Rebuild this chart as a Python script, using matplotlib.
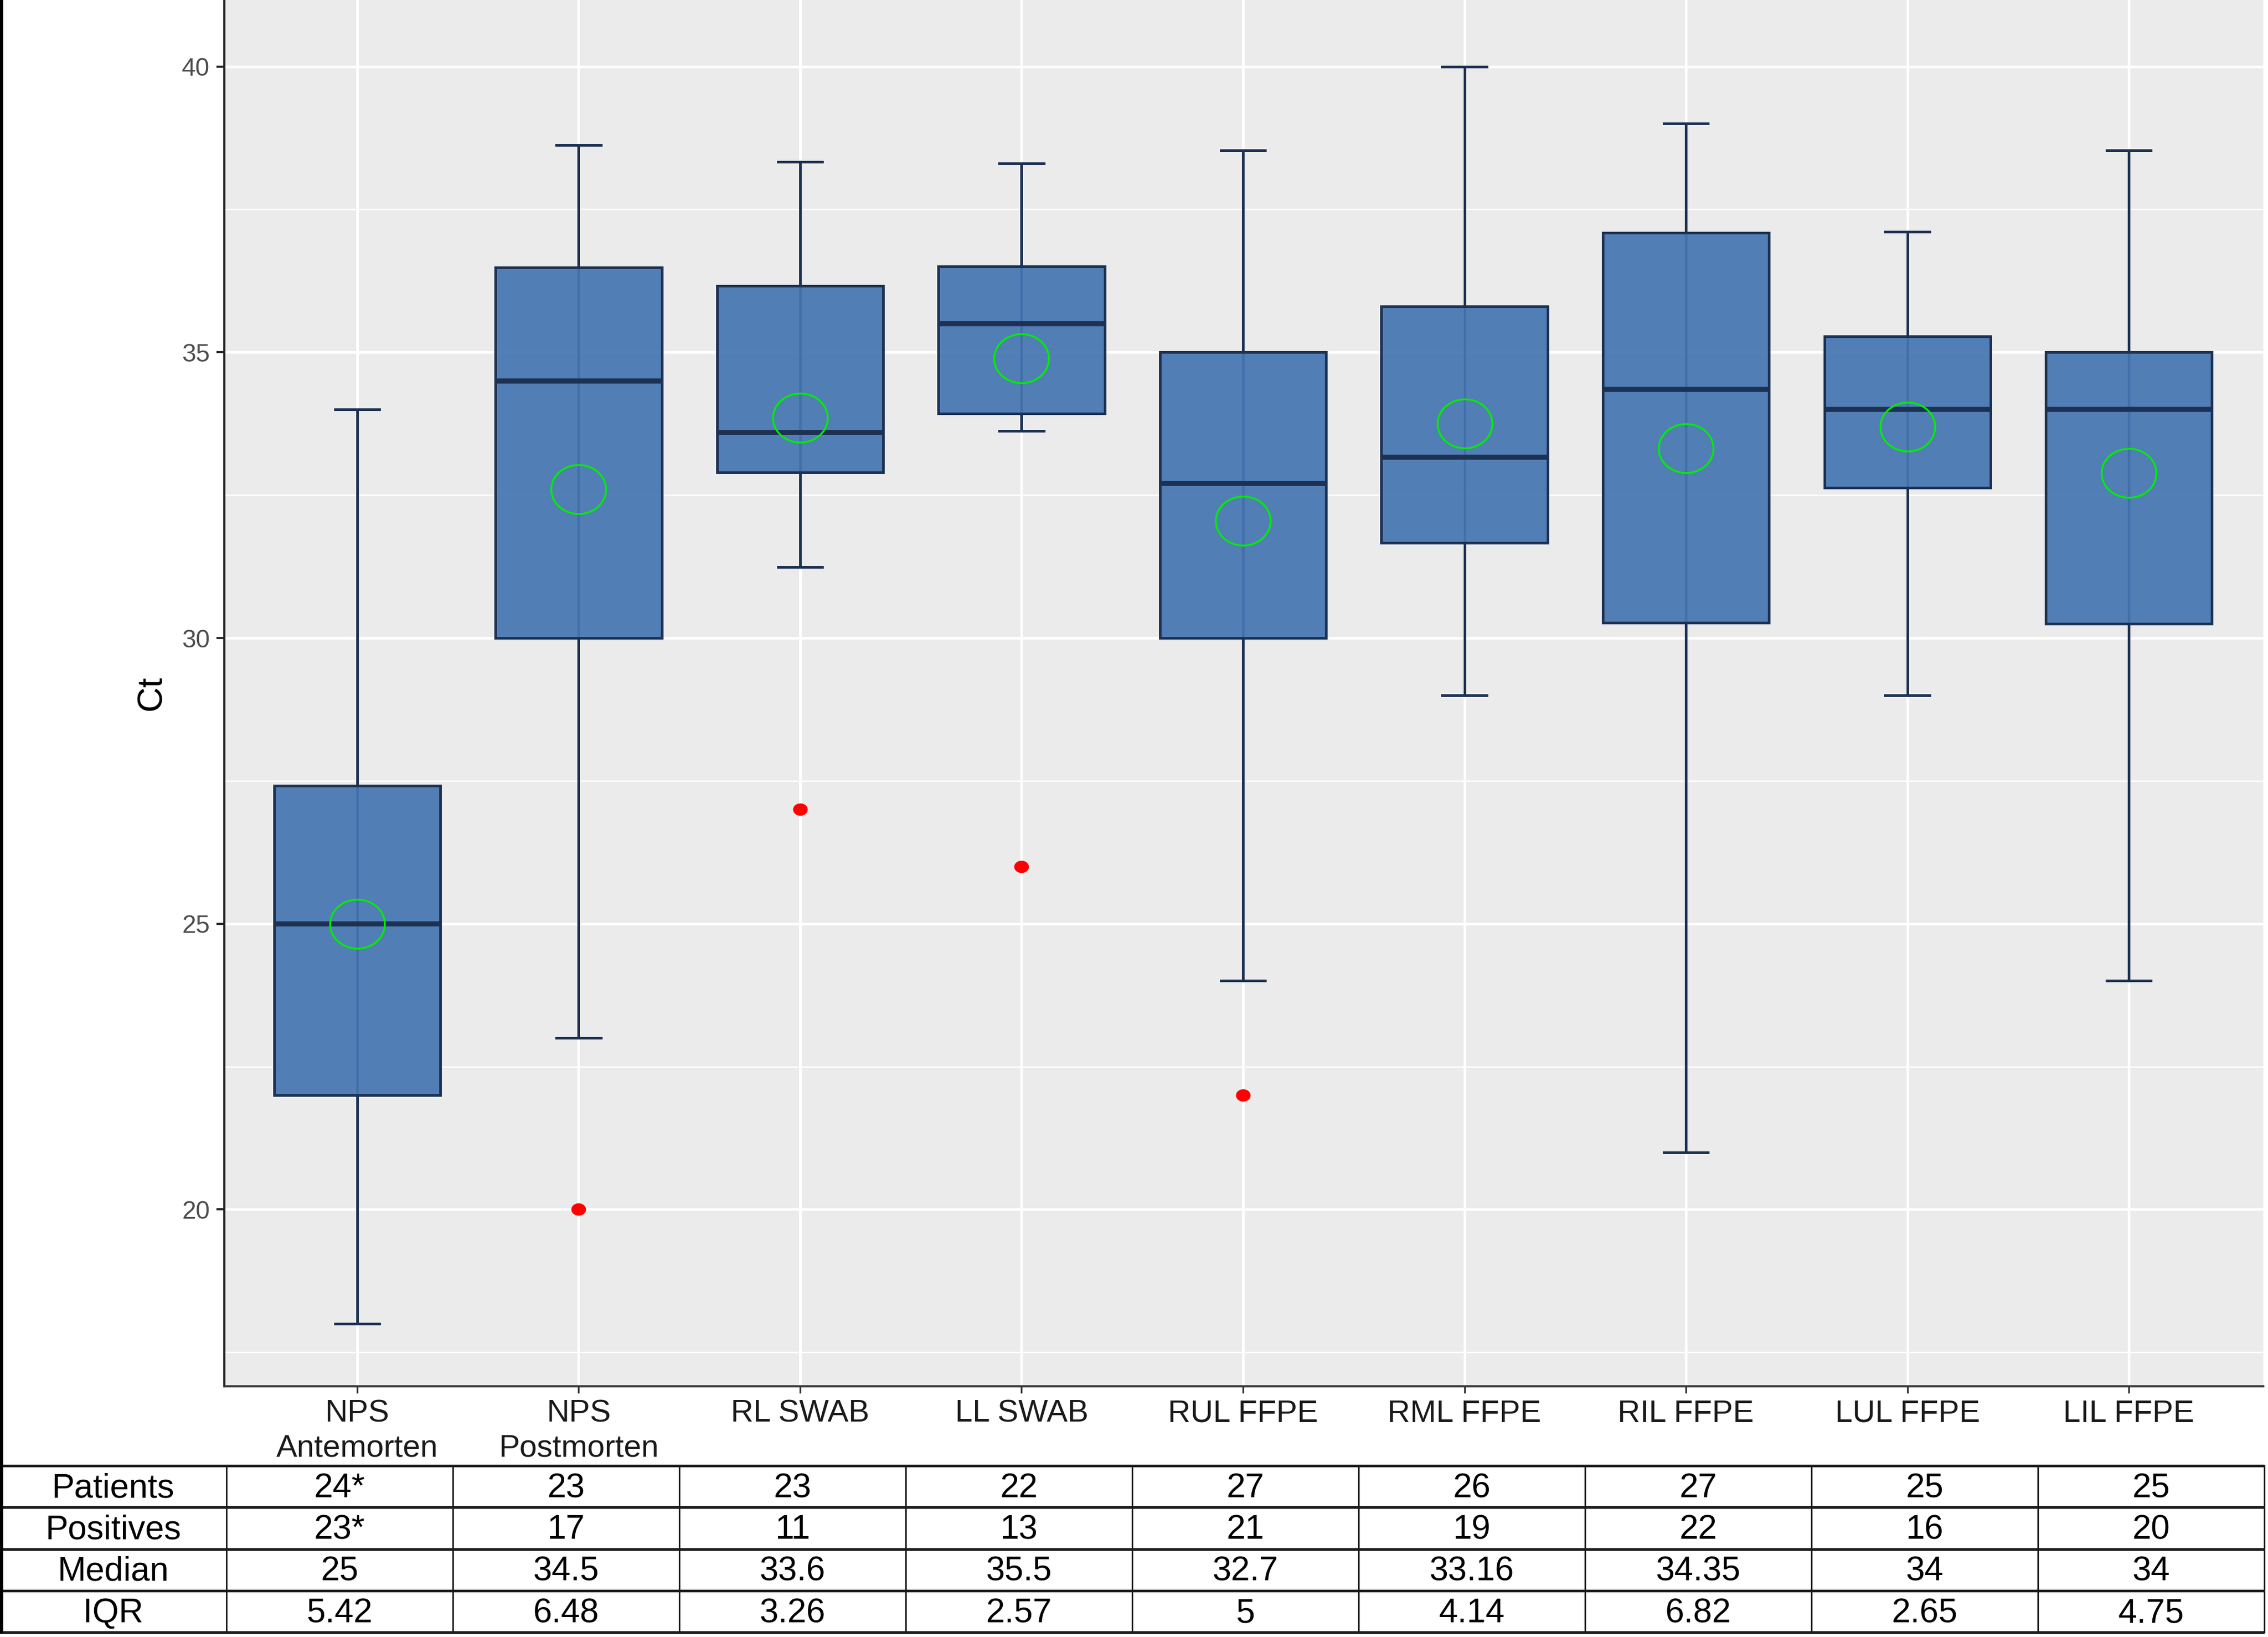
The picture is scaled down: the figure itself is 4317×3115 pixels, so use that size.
import numpy as np
import matplotlib
import matplotlib.pyplot as plt
from matplotlib.path import Path
from matplotlib.transforms import Affine2D
from matplotlib.ticker import MultipleLocator
from matplotlib.colors import to_rgba

plt.rcParams['font.family'] = ['Liberation Sans', 'DejaVu Sans']

# values
categories = ['NPS\nAntemorten', 'NPS\nPostmorten', 'RL SWAB', 'LL SWAB',
              'RUL FFPE', 'RML FFPE', 'RIL FFPE', 'LUL FFPE', 'LIL FFPE']
whisker_low = [18.0, 23.0, 31.24, 33.62, 24.0, 29.0, 21.0, 29.0, 24.0]
q1 = [22.0, 30.0, 32.9, 33.93, 30.0, 31.66, 30.27, 32.63, 30.25]
medians = [25.0, 34.5, 33.6, 35.5, 32.7, 33.16, 34.35, 34.0, 34.0]
q3 = [27.42, 36.48, 36.16, 36.5, 35.0, 35.8, 37.09, 35.28, 35.0]
whisker_high = [34.0, 38.63, 38.33, 38.3, 38.53, 40.0, 39.0, 37.11, 38.53]
means = [25.0, 32.6, 33.85, 34.89, 32.05, 33.75, 33.32, 33.70, 32.89]
outliers = [[], [20.0], [27.0], [26.0], [22.0], [], [], [], []]

row_labels = ['Patients', 'Positives', 'Median', 'IQR']
patients = ['24*', '23', '23', '22', '27', '26', '27', '25', '25']
positives = ['23*', '17', '11', '13', '21', '19', '22', '16', '20']
median_txt = ['25', '34.5', '33.6', '35.5', '32.7', '33.16', '34.35', '34', '34']
iqr_txt = ['5.42', '6.48', '3.26', '2.57', '5', '4.14', '6.82', '2.65', '4.75']
table_rows = [patients, positives, median_txt, iqr_txt]

W, H = 4317, 3115
DPI = 300
fill = '#4676B2'
edge = '#1D3152'

fig = plt.figure(figsize=(W / DPI, H / DPI), dpi=DPI)
fig.patch.set_facecolor('white')

# plot panel
ax = fig.add_axes([427 / W, 1 - 2638 / H, (4308 - 427) / W, 2638 / H])
ax.set_facecolor('#EBEBEB')
ax.set_axisbelow(True)

n = len(categories)
pos = np.arange(1, n + 1)
stats = []
for i in range(n):
    stats.append(dict(med=medians[i], q1=q1[i], q3=q3[i],
                      whislo=whisker_low[i], whishi=whisker_high[i],
                      fliers=outliers[i], mean=means[i]))

ell_mean = Affine2D().scale(1.0, 0.894).transform_path(Path.unit_circle())
ell_dot = Affine2D().scale(1.0, 0.84).transform_path(Path.unit_circle())

# errorbar line running the full length, under the (slightly transparent) box
ax.vlines(pos, whisker_low, whisker_high, color=edge, lw=1.2, zorder=2)
ax.bxp(stats, positions=pos, widths=0.75, capwidths=0.2,
       patch_artist=True, showmeans=True, meanline=False,
       boxprops=dict(facecolor=to_rgba(fill, 0.93), edgecolor=edge,
                     linewidth=1.2, zorder=3),
       whiskerprops=dict(color=edge, linewidth=1.2, zorder=2),
       capprops=dict(color=edge, linewidth=1.2, zorder=2),
       medianprops=dict(color=edge, linewidth=2.3, solid_capstyle='butt', zorder=4),
       meanprops=dict(marker=ell_mean, markersize=25, markerfacecolor='none',
                      markeredgecolor='#00EE00', markeredgewidth=0.85, zorder=5),
       flierprops=dict(marker=ell_dot, markersize=6.7, markerfacecolor='#FF0000',
                       markeredgecolor='none', zorder=5))

ax.set_xlim(0.4, 9.607)
ax.set_ylim(16.905, 41.164)
ax.set_xticks(pos)
ax.set_xticklabels(categories, fontsize=14.3, color='#1A1A1A', linespacing=1.25)
ax.set_yticks([20, 25, 30, 35, 40])
ax.yaxis.set_minor_locator(MultipleLocator(2.5))
ax.tick_params(axis='y', labelsize=11.5, labelcolor='#4D4D4D', length=3.6,
               width=1.0, color='#2A2A2A', pad=3)
ax.tick_params(axis='x', length=3, width=0.8, color='#333333', pad=3)
ax.tick_params(axis='y', which='minor', length=0)
ax.grid(which='major', color='white', linewidth=1.2)
ax.grid(which='minor', axis='y', color='white', linewidth=0.6)

for s in ['top', 'right']:
    ax.spines[s].set_visible(False)
ax.spines['left'].set_color('#222222')
ax.spines['left'].set_linewidth(1.0)
ax.spines['bottom'].set_color('#333333')
ax.spines['bottom'].set_linewidth(1.0)

ax.set_ylabel('Ct', fontsize=16, color='black', va='center')
ax.yaxis.set_label_coords((289 - 427) / (4308 - 427), 0.5)

# summary table underneath, drawn in figure pixels
tab = fig.add_axes([0, 0, 1, 1])
tab.set_xlim(0, W)
tab.set_ylim(H, 0)
tab.axis('off')

col_w = 431
row_top = 2789
row_h = 79.3
n_rows = len(row_labels)
x_right = col_w * (n + 1)

for r in range(n_rows + 1):
    y = row_top + r * row_h
    tab.plot([0, x_right], [y, y], color='#1A1A1A', lw=1.2, solid_capstyle='butt')
for c in range(1, n + 2):
    x = c * col_w
    tab.plot([x, x], [row_top, row_top + n_rows * row_h], color='#1A1A1A', lw=0.7)

for r, lab in enumerate(row_labels):
    yc = row_top + (r + 0.5) * row_h - 3
    tab.text(col_w / 2, yc, lab, fontsize=15.5, ha='center', va='center_baseline')
    for c, val in enumerate(table_rows[r]):
        tab.text(col_w * (c + 1.5), yc, val, fontsize=15.5, ha='center',
                 va='center_baseline')

# outer left border of the figure
tab.plot([3, 3], [0, row_top + n_rows * row_h], color='black', lw=1.5)

fig.savefig('out.png', dpi=DPI)
